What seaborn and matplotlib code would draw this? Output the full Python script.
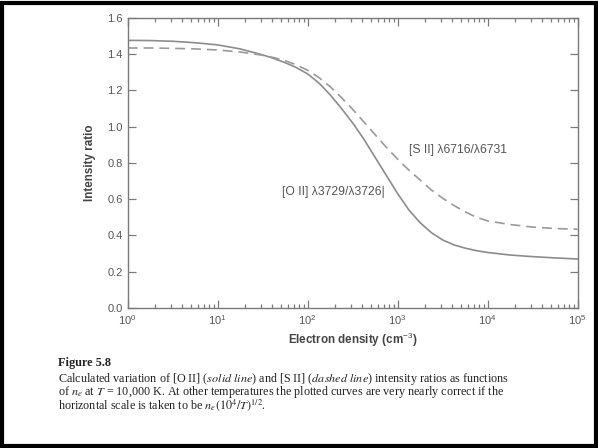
import numpy as np
import pandas as pd
import matplotlib
matplotlib.use("Agg")
import matplotlib.pyplot as plt
import matplotlib.ticker as mticker
from matplotlib.patches import Rectangle
import seaborn as sns

# values (log10 of electron density)
log_ne = [0.0, 0.25, 0.5, 0.75, 1.0, 1.25, 1.5, 1.625, 1.75, 1.875, 2.0, 2.125, 2.25, 2.375,
          2.5, 2.625, 2.75, 2.875, 3.0, 3.125, 3.25, 3.375, 3.5, 3.625, 3.75, 3.875, 4.0,
          4.25, 4.5, 4.75, 5.0]
oii_ratio = [1.475, 1.474, 1.470, 1.462, 1.450, 1.428, 1.395, 1.375, 1.352, 1.325, 1.29, 1.24,
             1.175, 1.10, 1.02, 0.93, 0.83, 0.73, 0.63, 0.54, 0.47, 0.415, 0.375, 0.348, 0.33,
             0.316, 0.306, 0.292, 0.283, 0.276, 0.27]
sii_ratio = [1.433, 1.433, 1.431, 1.428, 1.422, 1.411, 1.393, 1.38, 1.363, 1.34, 1.31, 1.27,
             1.22, 1.16, 1.095, 1.025, 0.955, 0.885, 0.82, 0.76, 0.705, 0.65, 0.605, 0.565,
             0.53, 0.50, 0.48, 0.46, 0.446, 0.438, 0.434]

y_ticks = [0.0, 0.2, 0.4, 0.6, 0.8, 1.0, 1.2, 1.4, 1.6]
x_ticks = [1, 10, 100, 1000, 10000, 100000]
x_tick_labels = ["$10^0$", "$10^1$", "$10^2$", "$10^3$", "$10^4$", "$10^5$"]

df = pd.DataFrame({
    "ne": [10 ** v for v in log_ne],
    "oii": oii_ratio,
    "sii": sii_ratio,
})

sns.set_theme(style="ticks")
plt.rcParams["font.family"] = ["Liberation Sans", "DejaVu Sans"]
plt.rcParams["mathtext.fontset"] = "custom"
plt.rcParams["mathtext.rm"] = "Liberation Sans"
plt.rcParams["mathtext.it"] = "Liberation Sans:italic"

grey = "#555555"
spine = "#7a7a7a"

fig = plt.figure(figsize=(5.98, 4.48), dpi=100)
ax = fig.add_axes([0.2135, 0.3125, 0.7525, 0.648])

sns.lineplot(data=df, x="ne", y="oii", ax=ax, color="#8c8c8c", lw=1.2)
sns.lineplot(data=df, x="ne", y="sii", ax=ax, color="#9a9a9a", lw=1.2, linestyle=(0, (6, 3.5)))

ax.set_xscale("log")
ax.set_xlim(1, 1e5)
ax.set_ylim(0, 1.6)
ax.set_xticks(x_ticks)
ax.set_xticklabels(x_tick_labels)
ax.xaxis.set_minor_locator(mticker.LogLocator(base=10, subs=np.arange(2, 10)))
ax.xaxis.set_minor_formatter(mticker.NullFormatter())
ax.set_yticks(y_ticks)
ax.set_yticklabels([f"{v:.1f}" for v in y_ticks])

ax.tick_params(which="both", direction="in", top=True, right=True, colors=spine,
               labelcolor=grey, labelsize=8, width=0.9)
ax.tick_params(which="major", length=5.5)
ax.tick_params(which="minor", length=3)
for s in ax.spines.values():
    s.set_color(spine)
    s.set_linewidth(1.0)

ax.set_xlabel("Electron density (cm$^{-3}$)", fontsize=8.4, fontweight="bold", color="#444444", labelpad=3)
ax.set_ylabel("Intensity ratio", fontsize=8.4, fontweight="bold", color="#444444", labelpad=8)

ax.text(10 ** 3.125, 0.871, "[S II] λ6716/λ6731", fontsize=8.7, color=grey, va="center", ha="left")
ax.text(10 ** 1.71, 0.641, "[O II] λ3729/λ3726|", fontsize=8.7, color=grey, va="center", ha="left")

# caption, one block so the lines keep book-like spacing
serif = ["Liberation Serif", "DejaVu Serif"]
fig.text(0.097, 0.19, "Figure 5.8", family=serif, fontsize=8.8, fontweight="bold", color="#222222", va="center")
cap = [
    r"Calculated variation of [O II] ($\it{solid\ line}$) and [S II] ($\it{dashed\ line}$) intensity ratios as functions",
    r"of $n_e$ at $T$ = 10,000 K. At other temperatures the plotted curves are very nearly correct if the",
    r"horizontal scale is taken to be $n_e(10^4/T)^{1/2}$.",
]
fig.text(0.097, 0.171, "\n".join(cap), family=serif, fontsize=8.7, color="#222222",
         va="top", linespacing=0.72, math_fontfamily="stix")

fig.patches.append(Rectangle((0.004, 0.004), 0.992, 0.99, transform=fig.transFigure,
                             fill=False, edgecolor="black", lw=3))

fig.savefig("out.png", dpi=100)
